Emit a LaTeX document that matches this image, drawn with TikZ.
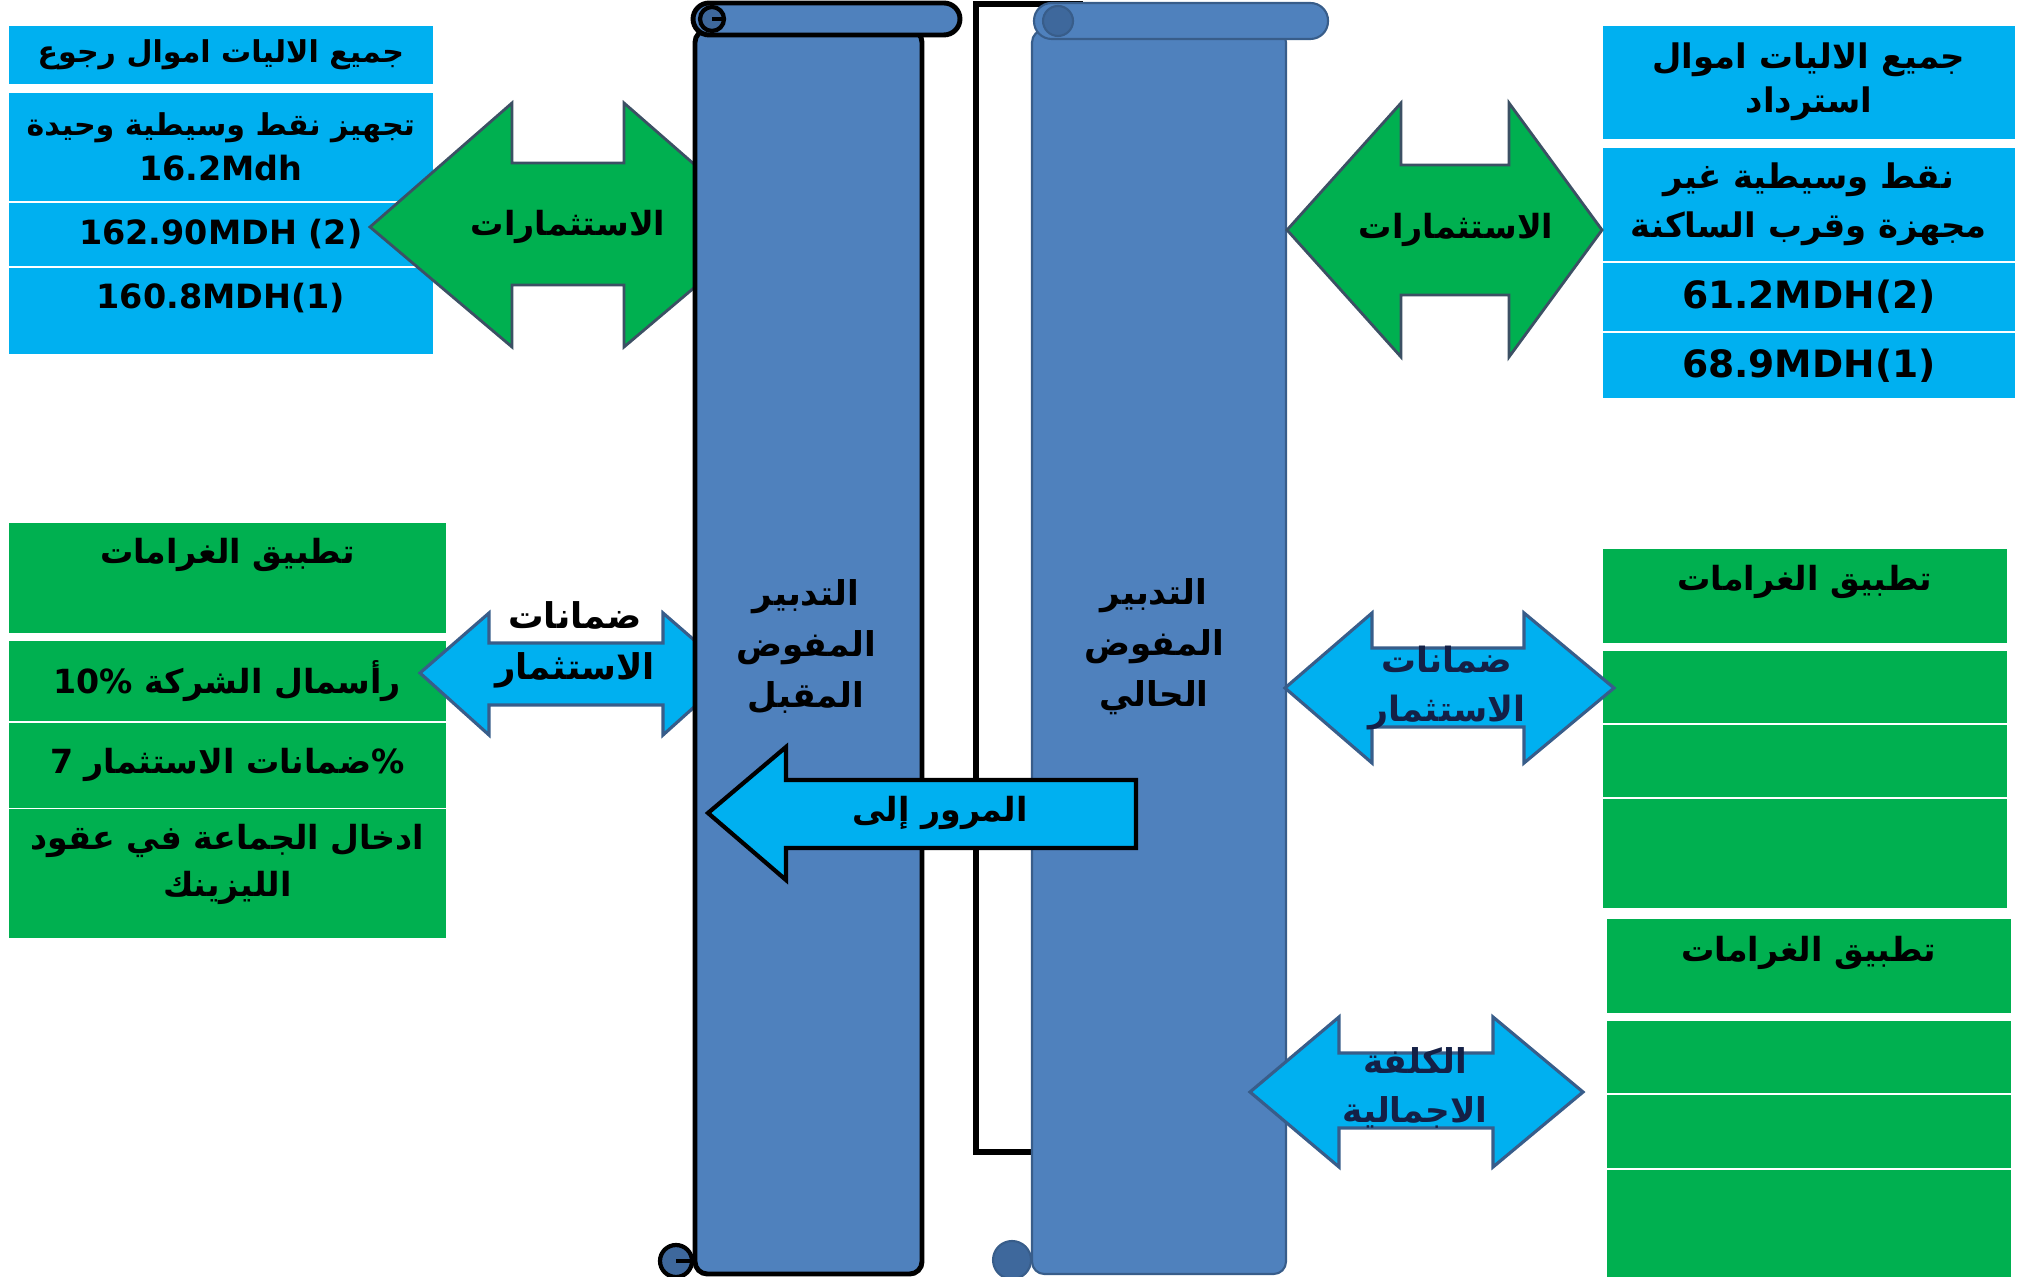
\documentclass[tikz,border=0pt]{standalone}
\usepackage{fontspec}
\setmainfont{DejaVu Sans}
\newfontfamily\arabicfont[Script=Arabic, Scale=0.9]{DejaVu Sans}
\TeXXeTstate=1
\usetikzlibrary{positioning}
\definecolor{cellblue}{RGB}{0,176,240}
\definecolor{cellgreen}{RGB}{0,176,80}
\definecolor{scrollblue}{RGB}{79,129,189}
\definecolor{scrolldark}{RGB}{62,104,156}
\definecolor{shapeline}{RGB}{56,93,138}
\definecolor{greenline}{RGB}{60,80,100}
\definecolor{navytext}{RGB}{20,32,70}
\newcommand{\artxt}[1]{{\arabicfont\bfseries\beginR #1\endR}}
\tikzset{
  cell/.style={anchor=north west, inner sep=0pt, align=center, font=\bfseries\fontsize{10.5}{13.4}\selectfont},
  bluecell/.style={cell, fill=cellblue},
  greencell/.style={cell, fill=cellgreen},
  smallcell/.style={font=\bfseries\fontsize{9.5}{12.8}\selectfont},
  bigcell/.style={font=\bfseries\fontsize{10.7}{12.5}\selectfont},
  greenarrow/.style={fill=cellgreen, draw=greenline, line width=0.8pt, line join=miter},
  bluearrow/.style={fill=cellblue, draw=shapeline, line width=0.9pt, line join=miter},
  passarrow/.style={fill=cellblue, draw=black, line width=1.2pt, line join=miter},
  scrollnext/.style={fill=scrollblue, draw=black, line width=1.4pt},
  scrollnow/.style={fill=scrollblue, draw=shapeline, line width=0.6pt},
  arrowtext/.style={align=center, font=\fontsize{10.5}{14.4}\selectfont},
  scrolltext/.style={align=center, font=\fontsize{10.8}{14.5}\selectfont}
}
\begin{document}
\begin{tikzpicture}[x=0.01cm, y=-0.01cm]
\useasboundingbox (0,0) rectangle (2022,1277);

\node[bluecell, smallcell, minimum width=4.24cm, minimum height=0.58cm] (lb1) at (8,25) {\artxt{جميع الاليات اموال رجوع}};
\node[bluecell, smallcell, minimum width=4.24cm, minimum height=1.08cm] (lb2) at (8,92) {\artxt{تجهيز نقط وسيطية وحيدة}\\16.2Mdh};
\node[bluecell, smallcell, minimum width=4.24cm, minimum height=0.63cm] (lb3) at (8,202) {162.90MDH (2)};
\node[bluecell, minimum width=4.24cm, minimum height=0.86cm] (lb4) at (8,267) {};
\node[cell, smallcell, anchor=center] (lb4t) at ([yshift=-0.31cm]lb4.north) {160.8MDH(1)};

\node[bluecell, bigcell, minimum width=4.12cm, minimum height=1.13cm] (rb1) at (1602,25) {\artxt{جميع الاليات اموال}\\\artxt{استرداد}};
\node[bluecell, bigcell, minimum width=4.12cm, minimum height=1.13cm] (rb2) at (1602,147) {\artxt{نقط وسيطية غير}\\[1.6pt]\artxt{مجهزة وقرب الساكنة}};
\node[bluecell, bigcell, minimum width=4.12cm, minimum height=0.68cm] (rb3) at (1602,262) {61.2MDH(2)};
\node[bluecell, bigcell, minimum width=4.12cm, minimum height=0.65cm] (rb4) at (1602,332) {68.9MDH(1)};

\node[greencell, minimum width=4.37cm, minimum height=1.10cm] (lg1) at (8,522) {};
\node[cell, anchor=center] (lg1t) at ([yshift=-0.33cm]lg1.north) {\artxt{تطبيق الغرامات}};
\node[greencell, minimum width=4.37cm, minimum height=0.80cm] (lg2) at (8,640) {\artxt{رأسمال الشركة \beginL 10\%\endL}};
\node[greencell, minimum width=4.37cm, minimum height=0.85cm] (lg3) at (8,722) {\artxt{\%ضمانات الاستثمار \beginL 7\endL}};
\node[greencell, minimum width=4.37cm, minimum height=1.29cm] (lg4) at (8,808) {};
\node[cell, anchor=center] (lg4t) at ([yshift=-0.56cm]lg4.north) {\artxt{ادخال الجماعة في عقود}\\\artxt{الليزينك}};

\node[greencell, minimum width=4.04cm, minimum height=0.94cm] (rg1) at (1602,548) {};
\node[cell, anchor=center] (rg1t) at ([yshift=-0.34cm]rg1.north) {\artxt{تطبيق الغرامات}};
\node[greencell, minimum width=4.04cm, minimum height=0.72cm] (rg2) at (1602,650) {};
\node[greencell, minimum width=4.04cm, minimum height=0.72cm] (rg3) at (1602,724) {};
\node[greencell, minimum width=4.04cm, minimum height=1.09cm] (rg4) at (1602,798) {};

\node[greencell, minimum width=4.04cm, minimum height=0.94cm] (rh1) at (1606,918) {};
\node[cell, anchor=center] (rh1t) at ([yshift=-0.35cm]rh1.north) {\artxt{تطبيق الغرامات}};
\node[greencell, minimum width=4.04cm, minimum height=0.72cm] (rh2) at (1606,1020) {};
\node[greencell, minimum width=4.04cm, minimum height=0.73cm] (rh3) at (1606,1094) {};
\node[greencell, minimum width=4.04cm, minimum height=1.08cm] (rh4) at (1606,1169) {};

\draw[fill=white, draw=black, line width=1.5pt] (976,4) rectangle (1080,1152);

\filldraw[scrollnow, rounded corners=3.5pt] (1032,30) rectangle (1286,1274);
\filldraw[scrollnow, rounded corners=5pt] (1034,3) rectangle (1328,39);
\filldraw[fill=scrolldark, draw=shapeline, line width=0.6pt] (1058,21) circle (15);
\filldraw[fill=scrolldark, draw=shapeline, line width=0.6pt] (1012,1260) circle (19);

\filldraw[greenarrow] (370,227) -- (512,103) -- (512,163) -- (624,163) -- (624,103) -- (766,227) -- (624,347) -- (624,285) -- (512,285) -- (512,347) -- cycle;
\filldraw[bluearrow] (420,673) -- (489,613) -- (489,643) -- (663,643) -- (663,613) -- (732,673) -- (663,735) -- (663,705) -- (489,705) -- (489,735) -- cycle;

\filldraw[scrollnext, rounded corners=3.5pt] (695,30) rectangle (922,1274);
\filldraw[scrollnext, rounded corners=4.6pt] (693,3) rectangle (960,35);
\filldraw[fill=scrolldark, draw=black, line width=1.2pt] (712,19) circle (12);
\draw[black, line width=1.2pt] (712,19) -- (726,19);
\filldraw[fill=scrolldark, draw=black, line width=1.2pt] (676,1261) circle (16);
\draw[black, line width=1.2pt] (676,1261) -- (690,1261);

\filldraw[greenarrow] (1287,230) -- (1401,103) -- (1401,165) -- (1509,165) -- (1509,103) -- (1602,230) -- (1509,357) -- (1509,295) -- (1401,295) -- (1401,357) -- cycle;
\filldraw[bluearrow] (1285,688) -- (1372,613) -- (1372,648) -- (1524,648) -- (1524,613) -- (1614,688) -- (1524,763) -- (1524,727) -- (1372,727) -- (1372,763) -- cycle;
\filldraw[bluearrow] (1250,1092) -- (1339,1017) -- (1339,1053) -- (1493,1053) -- (1493,1017) -- (1583,1092) -- (1493,1167) -- (1493,1128) -- (1339,1128) -- (1339,1167) -- cycle;

\filldraw[passarrow] (708,813) -- (786,747) -- (786,780) -- (1136,780) -- (1136,848) -- (786,848) -- (786,880) -- cycle;

\node[arrowtext] (investL) at (568,227) {\artxt{الاستثمارات}};
\node[arrowtext] (investR) at (1456,230) {\artxt{الاستثمارات}};
\node[arrowtext, font=\fontsize{11.2}{14.5}\selectfont] (guarL) at (575,645) {\artxt{ضمانات}\\\artxt{الاستثمار}};
\node[arrowtext, font=\fontsize{11}{14.2}\selectfont, text=navytext] (guarR) at (1447,688) {\artxt{ضمانات}\\\artxt{الاستثمار}};
\node[arrowtext, font=\fontsize{10.8}{14.2}\selectfont, text=navytext] (costR) at (1415,1088) {\artxt{الكلفة}\\\artxt{الاجمالية}};
\node[arrowtext] (passlbl) at (940,813) {\artxt{المرور إلى}};
\node[scrolltext] (nextlbl) at (806,647) {\artxt{التدبير}\\\artxt{المفوض}\\\artxt{المقبل}};
\node[scrolltext] (nowlbl) at (1154,647) {\artxt{التدبير}\\\artxt{المفوض}\\\artxt{الحالي}};
\end{tikzpicture}
\end{document}
